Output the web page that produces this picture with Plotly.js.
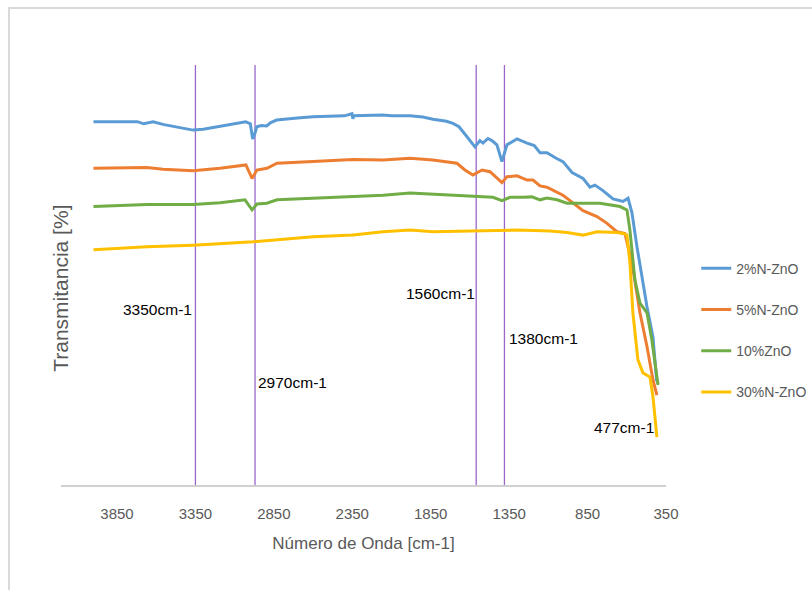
<!DOCTYPE html>
<html>
<head>
<meta charset="utf-8">
<script src="https://cdn.plot.ly/plotly-3.0.1.min.js"></script>
<style>
  html, body { margin: 0; padding: 0; background: #ffffff; }
  #wrap { position: relative; width: 812px; height: 590px; overflow: hidden; }
  #frame { position: absolute; left: 8px; top: 7px; width: 830px; height: 620px; border: 2px solid #d9d9d9; box-sizing: border-box; pointer-events: none; z-index: 5; }
  #chart { position: absolute; left: 0; top: 0; width: 812px; height: 590px; }
</style>
</head>
<body>
<div id="wrap">
  <div id="chart"></div>
  <div id="frame"></div>
</div>
<script>
// Wavenumber (cm-1) and transmittance (%)
const wn_2N = [4000, 3850, 3720, 3680, 3652, 3620, 3550, 3450, 3365, 3300, 3200, 3100, 3030, 3000, 2985, 2970, 2959, 2930, 2896, 2870, 2832, 2700, 2600, 2400, 2352, 2346, 2340, 2154, 2100, 1982, 1900, 1836, 1750, 1708, 1670, 1644, 1600, 1568, 1536, 1517, 1485, 1460, 1428, 1396, 1364, 1300, 1236, 1190, 1153, 1109, 1050, 1007, 949, 879, 835, 803, 752, 688, 624, 592, 567, 535, 471, 433, 410, 400];
const t_2N  = [86.5, 86.5, 86.5, 86.0, 86.3, 86.5, 85.8, 85.0, 84.5, 84.7, 85.4, 86.0, 86.5, 86.0, 82.4, 83.8, 85.3, 85.6, 85.5, 86.3, 86.9, 87.4, 87.7, 87.9, 88.4, 87.2, 87.9, 88.1, 87.9, 87.9, 87.6, 87.1, 86.6, 86.1, 85.3, 84.1, 82.0, 80.5, 82.0, 81.4, 82.5, 82.0, 81.0, 77.0, 81.0, 82.4, 81.4, 80.8, 79.1, 79.1, 77.8, 77.0, 74.4, 73.0, 70.9, 71.4, 70.1, 68.1, 67.5, 68.3, 64.8, 56.7, 42.4, 35.2, 25.0, 24.3];

const wn_5N = [4000, 3850, 3659, 3557, 3365, 3193, 3028, 2989, 2958, 2894, 2830, 2600, 2346, 2154, 1982, 1836, 1683, 1632, 1581, 1523, 1472, 1396, 1364, 1300, 1236, 1198, 1153, 1109, 1070, 1007, 962, 879, 790, 726, 663, 612, 567, 516, 471, 433, 408];
const t_5N  = [75.4, 75.5, 75.6, 75.2, 74.8, 75.4, 76.2, 73.0, 75.0, 75.4, 76.6, 77.0, 77.5, 77.4, 77.8, 77.4, 76.6, 75.0, 73.8, 75.0, 74.6, 72.0, 73.4, 73.6, 72.6, 72.6, 71.2, 70.9, 70.1, 69.0, 67.7, 65.3, 63.9, 62.3, 60.3, 59.9, 52.9, 41.0, 32.9, 25.0, 21.4];

const wn_10 = [4000, 3659, 3365, 3193, 3034, 2989, 2958, 2894, 2830, 2600, 2346, 2154, 1982, 1727, 1555, 1453, 1396, 1345, 1262, 1205, 1153, 1109, 1045, 981, 879, 771, 643, 599, 580, 548, 516, 471, 440, 401];
const t_10  = [66.3, 66.8, 66.8, 67.2, 67.9, 65.5, 66.9, 67.1, 67.9, 68.3, 68.6, 69.0, 69.5, 69.0, 68.6, 68.5, 67.7, 68.5, 68.5, 68.6, 67.9, 68.3, 67.9, 67.1, 67.1, 67.1, 66.3, 65.5, 60.7, 48.8, 43.3, 41.0, 34.5, 23.8];

const wn_30N = [4000, 3659, 3365, 2983, 2600, 2346, 2154, 1982, 1836, 1517, 1300, 1090, 981, 879, 790, 663, 624, 599, 580, 561, 529, 497, 452, 433, 408];
const t_30N  = [56.0, 56.7, 57.1, 57.9, 59.1, 59.5, 60.3, 60.7, 60.3, 60.5, 60.7, 60.5, 60.1, 59.5, 60.3, 60.1, 59.9, 59.5, 52.9, 41.0, 29.8, 26.7, 25.7, 21.0, 11.4];

const seriesNames = ["2%N-ZnO", "5%N-ZnO", "10%ZnO", "30%N-ZnO"];
const seriesColors = ["#5b9bd5", "#ed7d31", "#70ad47", "#ffc000"];

const tickVals = [3850, 3350, 2850, 2350, 1850, 1350, 850, 350];
const tickText = ["3850", "3350", "2850", "2350", "1850", "1350", "850", "350"];

// Marked bands
const peakWn = [3350, 2970, 1560, 1380];
const labelText = ["3350cm-1", "2970cm-1", "1560cm-1", "1380cm-1", "477cm-1"];
const labelWn = [3595, 2728, 1785, 1134, 618];
const labelT = [41.7, 24.3, 45.7, 34.8, 13.6];

const FONT = "Liberation Sans, Arial, sans-serif";

const xs = [wn_2N, wn_5N, wn_10, wn_30N];
const ys = [t_2N, t_5N, t_10, t_30N];
const traces = seriesNames.map((n, i) => ({
  x: xs[i], y: ys[i], name: n, type: "scatter", mode: "lines",
  line: { color: seriesColors[i], width: 3 },
  legendgroup: "g" + i
}));

const shapes = peakWn.map(w => ({
  type: "line", xref: "x", yref: "paper", x0: w, x1: w, y0: 0, y1: 1,
  line: { color: "#9966cc", width: 1.3 }, layer: "below"
}));

const annotations = labelText.map((t, i) => ({
  x: labelWn[i], y: labelT[i], xref: "x", yref: "y", text: t, showarrow: false,
  font: { family: FONT, size: 15.5, color: "#000000" }
}));
annotations.push({
  xref: "paper", yref: "paper", x: -0.002, y: 0.469, text: "Transmitancia [%]",
  textangle: -90, showarrow: false, xanchor: "center", yanchor: "middle",
  font: { family: FONT, size: 21, color: "#595959" }
});

const layout = {
  width: 812, height: 590,
  margin: { l: 61, r: 146, t: 65, b: 105, autoexpand: false },
  paper_bgcolor: "#ffffff", plot_bgcolor: "#ffffff",
  showlegend: true,
  legend: {
    x: 1.05, xanchor: "left", y: 0.553, yanchor: "top",
    font: { family: FONT, size: 14, color: "#595959" },
    tracegroupgap: 20, bgcolor: "rgba(0,0,0,0)"
  },
  xaxis: {
    range: [4207, 350], tickmode: "array", tickvals: tickVals, ticktext: tickText,
    showgrid: false, zeroline: false, showline: true, linecolor: "#d0d0d0", linewidth: 2,
    ticks: "outside", ticklen: 14, tickcolor: "rgba(0,0,0,0)",
    tickfont: { family: FONT, size: 15, color: "#595959" },
    title: { text: "Número de Onda [cm-1]", font: { family: FONT, size: 17, color: "#595959" }, standoff: 16 }
  },
  yaxis: {
    range: [0, 100], showgrid: false, zeroline: false, showline: false, showticklabels: false, ticks: ""
  },
  shapes: shapes,
  annotations: annotations
};

Plotly.newPlot("chart", traces, layout, { displayModeBar: false, staticPlot: true });
</script>
</body>
</html>
